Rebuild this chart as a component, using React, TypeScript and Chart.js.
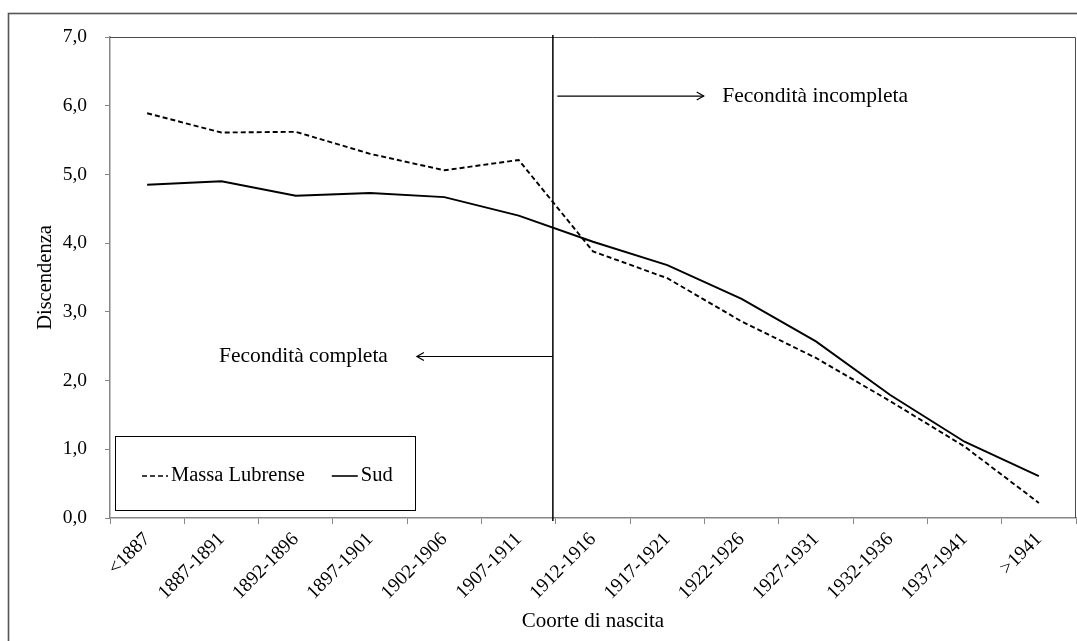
import React, { useEffect, useRef } from 'react';
import { Chart, registerables } from 'chart.js';

Chart.register(...registerables);

// ---------- data ----------
const categories = [
  '<1887', '1887-1891', '1892-1896', '1897-1901', '1902-1906', '1907-1911',
  '1912-1916', '1917-1921', '1922-1926', '1927-1931', '1932-1936', '1937-1941', '>1941',
];
const massaLubrense = [5.89, 5.61, 5.62, 5.3, 5.06, 5.21, 3.88, 3.49, 2.86, 2.33, 1.7, 1.04, 0.22];
const sud = [4.85, 4.9, 4.69, 4.73, 4.67, 4.4, 4.02, 3.68, 3.19, 2.57, 1.79, 1.11, 0.61];
const seriesLabels = ['Massa Lubrense', 'Sud'];
const yMin = 0;
const yMax = 7;
const yStep = 1;
const xTitle = 'Coorte di nascita';
const yTitle = 'Discendenza';

// separator between complete and incomplete fertility (category index units)
const splitAt = 5.46;
// annotation arrows / texts in data units
const incompleteLabel = 'Fecondità incompleta';
const incompleteArrow = { from: 5.52, to: 7.49, y: 6.14, textX: 7.74 };
const completeLabel = 'Fecondità completa';
const completeArrow = { from: 5.46, to: 3.63, y: 2.35, textX: 3.24 };

const FONT = "'Liberation Serif', 'Times New Roman', serif";
const W = 1077;
const H = 641;

function fmt(v: number) {
  return v.toFixed(1).replace('.', ',');
}

function arrow(ctx: CanvasRenderingContext2D, x1: number, x2: number, y: number) {
  ctx.beginPath();
  ctx.moveTo(x1, y);
  ctx.lineTo(x2, y);
  ctx.stroke();
  const dir = x2 > x1 ? 1 : -1;
  ctx.beginPath();
  ctx.moveTo(x2 - dir * 7, y - 4);
  ctx.lineTo(x2, y);
  ctx.lineTo(x2 - dir * 7, y + 4);
  ctx.stroke();
}

const overlay = {
  id: 'overlay',
  beforeDraw(chart: any) {
    const { ctx } = chart;
    ctx.save();
    ctx.fillStyle = '#ffffff';
    ctx.fillRect(0, 0, chart.width, chart.height);
    ctx.strokeStyle = '#555555';
    ctx.lineWidth = 1.6;
    ctx.strokeRect(8.5, 13.5, chart.width + 40, chart.height + 40);
    ctx.restore();
  },
  afterDraw(chart: any) {
    const { ctx, chartArea: ca } = chart;
    const x = chart.scales.x;
    const y = chart.scales.y;
    ctx.save();
    // plot border top & right
    ctx.strokeStyle = '#4a4a4a';
    ctx.lineWidth = 1;
    ctx.beginPath();
    ctx.moveTo(ca.left, Math.round(ca.top) + 0.5);
    ctx.lineTo(Math.round(ca.right) - 0.5, Math.round(ca.top) + 0.5);
    ctx.lineTo(Math.round(ca.right) - 0.5, ca.bottom);
    ctx.stroke();

    // vertical separator
    const sx = x.getPixelForValue(splitAt);
    ctx.strokeStyle = '#000';
    ctx.lineWidth = 1.5;
    ctx.beginPath();
    ctx.moveTo(sx, ca.top - 2);
    ctx.lineTo(sx, ca.bottom + 3);
    ctx.stroke();

    // arrows
    ctx.lineWidth = 1.2;
    const ay1 = y.getPixelForValue(incompleteArrow.y);
    arrow(ctx, x.getPixelForValue(incompleteArrow.from), x.getPixelForValue(incompleteArrow.to), ay1);
    const ay2 = y.getPixelForValue(completeArrow.y);
    arrow(ctx, x.getPixelForValue(completeArrow.from), x.getPixelForValue(completeArrow.to), ay2);

    ctx.fillStyle = '#000';
    ctx.font = `21.5px ${FONT}`;
    ctx.textBaseline = 'middle';
    ctx.textAlign = 'left';
    ctx.fillText(incompleteLabel, x.getPixelForValue(incompleteArrow.textX), ay1);
    ctx.textAlign = 'right';
    ctx.fillText(completeLabel, x.getPixelForValue(completeArrow.textX), ay2);

    // legend box
    const lx = ca.left + 5;
    const ly = ca.bottom - 82;
    const lw = 300;
    const lh = 74;
    ctx.fillStyle = '#fff';
    ctx.fillRect(lx, ly, lw, lh);
    ctx.strokeStyle = '#000';
    ctx.lineWidth = 1;
    ctx.strokeRect(Math.round(lx) + 0.5, Math.round(ly) + 0.5, lw, lh);
    const cy = ly + 40;
    const items = chart.data.datasets;
    let cx = lx + 27;
    ctx.font = `20.5px ${FONT}`;
    ctx.textAlign = 'left';
    ctx.textBaseline = 'middle';
    items.forEach((ds: any) => {
      ctx.strokeStyle = '#000';
      ctx.lineWidth = 1.6;
      ctx.setLineDash(ds.borderDash || []);
      ctx.beginPath();
      ctx.moveTo(cx, cy);
      ctx.lineTo(cx + 26, cy);
      ctx.stroke();
      ctx.setLineDash([]);
      ctx.fillStyle = '#000';
      ctx.fillText(ds.label, cx + 29, cy);
      cx += 29 + ctx.measureText(ds.label).width + 27;
    });
    ctx.restore();
  },
};

export default function App() {
  const ref = useRef<HTMLCanvasElement | null>(null);

  useEffect(() => {
    document.body.style.margin = '0';
    document.body.style.overflow = 'hidden';
    const canvas = ref.current;
    if (!canvas) return;
    const chart = new Chart(canvas, {
      type: 'line',
      data: {
        labels: categories,
        datasets: [
          {
            label: seriesLabels[0],
            data: massaLubrense,
            borderColor: '#000',
            borderWidth: 1.9,
            borderDash: [5, 3],
            pointRadius: 0,
            fill: false,
            tension: 0,
          },
          {
            label: seriesLabels[1],
            data: sud,
            borderColor: '#000',
            borderWidth: 1.9,
            pointRadius: 0,
            fill: false,
            tension: 0,
          },
        ],
      },
      options: {
        responsive: false,
        animation: false,
        devicePixelRatio: 1,
        layout: { padding: { top: 37, left: 0, right: 1, bottom: 0 } },
        plugins: {
          legend: { display: false },
          tooltip: { enabled: false },
          title: { display: false },
        },
        scales: {
          x: {
            type: 'category',
            offset: true,
            grid: {
              offset: true,
              drawOnChartArea: false,
              drawTicks: true,
              tickLength: 6,
              color: '#868686',
            },
            border: { display: true, color: '#868686', width: 1.5 },
            ticks: {
              color: '#000',
              font: { family: FONT, size: 19.5 },
              maxRotation: 45,
              minRotation: 45,
              autoSkip: false,
              padding: 4,
            },
            title: {
              display: true,
              text: xTitle,
              color: '#000',
              font: { family: FONT, size: 21 },
              padding: { top: 0, bottom: 7 },
            },
            afterFit: (scale: any) => {
              scale.height = 123;
            },
          },
          y: {
            min: yMin,
            max: yMax,
            grid: {
              drawOnChartArea: false,
              drawTicks: true,
              tickLength: 5,
              color: '#868686',
            },
            border: { display: true, color: '#868686', width: 1.5 },
            ticks: {
              stepSize: yStep,
              color: '#000',
              font: { family: FONT, size: 19.5 },
              padding: 18,
              callback: (v: any) => fmt(Number(v)),
            },
            title: {
              display: true,
              text: yTitle,
              color: '#000',
              font: { family: FONT, size: 20.5 },
              padding: { top: 33, bottom: 0 },
            },
            afterFit: (scale: any) => {
              scale.width = 110;
            },
          },
        },
      },
      plugins: [overlay],
    });
    return () => chart.destroy();
  }, []);

  return (
    <div style={{ width: W, height: H }}>
      <canvas ref={ref} width={W} height={H} style={{ display: 'block', width: W, height: H }} />
    </div>
  );
}
